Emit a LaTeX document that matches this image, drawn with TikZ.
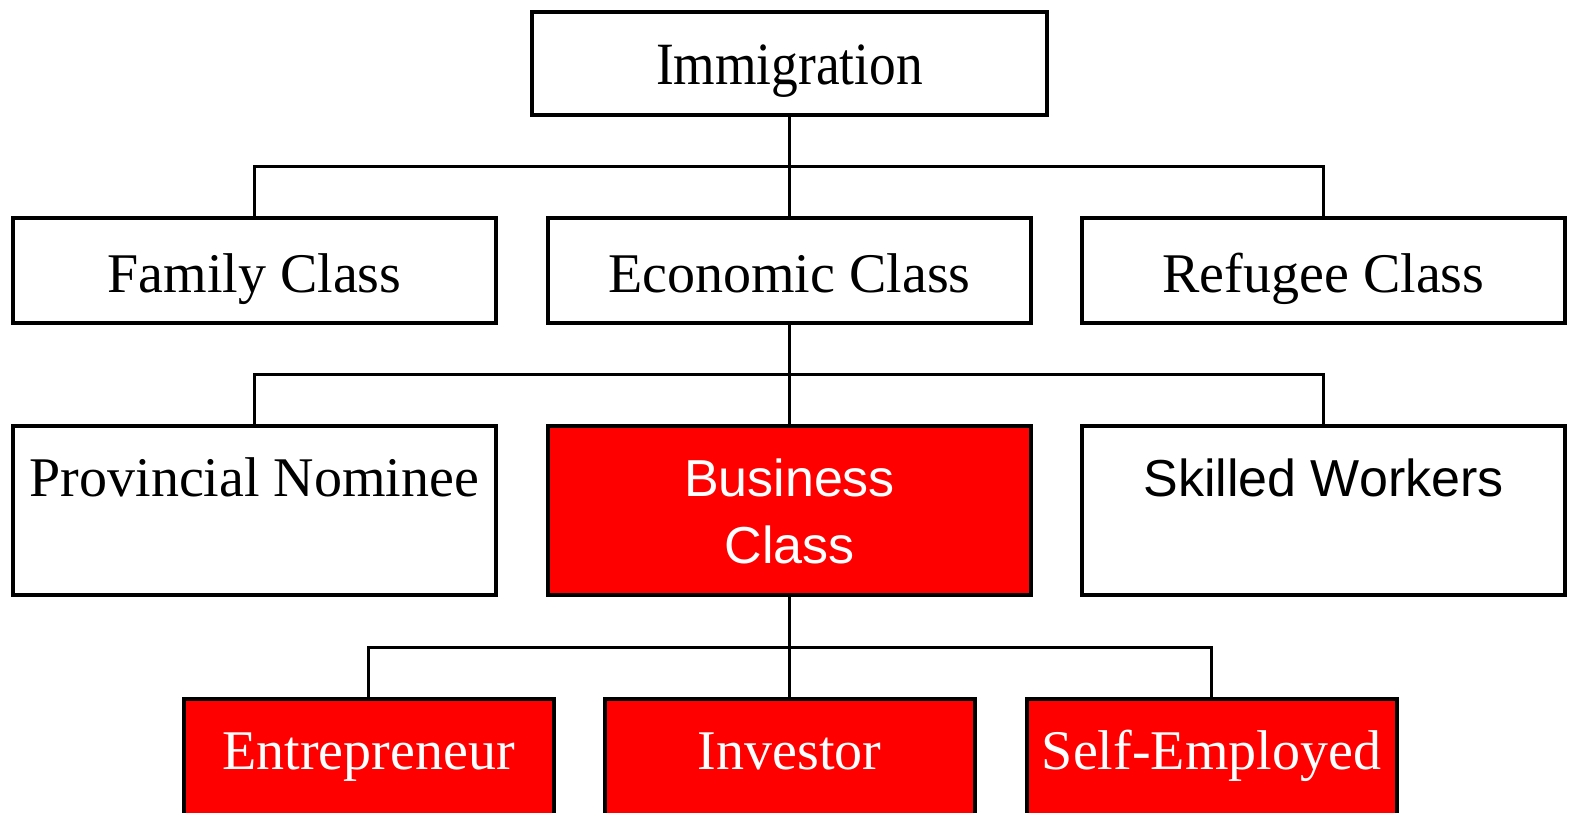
\documentclass[tikz,border=0pt]{standalone}
\usepackage{fontspec}
\setmainfont{Liberation Serif}
\newfontfamily\sansfam{Liberation Sans}
\newfontfamily\narrowfam[FakeStretch=0.89]{Liberation Serif}
\usetikzlibrary{positioning,calc}
\definecolor{bizred}{RGB}{255,0,0}

\begin{document}
\begin{tikzpicture}[x=1pt, y=-1pt,
        box/.style = {draw, line width=4pt, inner sep=0pt, outer sep=0pt, align=center,
            minimum width=483pt, minimum height=105pt, text height=43pt, text depth=0pt,
            font=\fontsize{56}{67}\selectfont},
        tall/.style = {box, minimum height=169pt, text height=105pt},
        chosen/.style = {fill=bizred, text=white},
        sans/.style = {font=\sansfam\fontsize{52}{67}\selectfont},
        link/.style = {line width=3pt},
        node distance={103pt and 52pt}]
        \useasboundingbox (0,0) rectangle (1589,813);
        % top
        \node[box, minimum width=515pt, minimum height=103pt, font=\narrowfam\fontsize{60}{67}\selectfont] (imm) at (789.5,63.5) {Immigration};
        % classes
        \node[box, below=of imm] (econ) {Economic Class};
        \node[box, left=of econ] (fam) {Family Class};
        \node[box, right=51pt of econ] (refu) {Refugee Class};
        % economic programs
        \node[tall, chosen, sans, below=of econ] (bus) {Business\\Class};
        \node[tall, left=of bus] (prov) {Provincial Nominee\\\mbox{}};
        \node[tall, sans, right=51pt of bus] (skill) {Skilled Workers\\\mbox{}};
        % business streams
        \node[tall, chosen, minimum width=370pt, below=104pt of bus] (inv) {Investor\\\mbox{}};
        \node[tall, chosen, minimum width=370pt, left=51pt of inv] (entr) {Entrepreneur\\\mbox{}};
        \node[tall, chosen, minimum width=370pt, right=52pt of inv] (self) {Self-Employed\\\mbox{}};
        % connectors
        \coordinate (j1) at ($(imm.south)!.5!(econ.north)$);
        \coordinate (j2) at ($(econ.south)!.5!(bus.north)$);
        \coordinate (j3) at ($(bus.south)!.5!(inv.north)$);
        \draw[link] (imm) -- (econ);
        \draw[link] (fam.north) |- (j1) -| (refu.north);
        \draw[link] (econ) -- (bus);
        \draw[link] (prov.north) |- (j2) -| (skill.north);
        \draw[link] (bus) -- (inv);
        \draw[link] (entr.north) |- (j3) -| (self.north);
    \end{tikzpicture}
\end{document}
